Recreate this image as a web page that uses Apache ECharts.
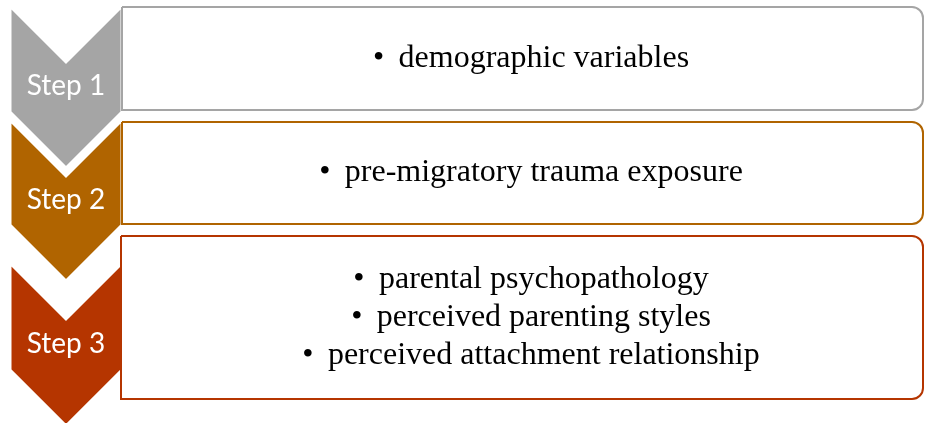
<!DOCTYPE html>
<html>
<head>
<meta charset="utf-8">
<script src="https://cdn.jsdelivr.net/npm/echarts@6/dist/echarts.min.js"></script>
<style>
  html, body { margin: 0; padding: 0; background: #fff; }
  #main { width: 926px; height: 423px; }
</style>
</head>
<body>
<div id="main"></div>
<script>
// step labels and the bullet items of each step
var steps = ['Step 1', 'Step 2', 'Step 3'];
var items1 = ['demographic variables'];
var items2 = ['pre-migratory trauma exposure'];
var items3 = ['parental psychopathology', 'perceived parenting styles', 'perceived attachment relationship'];
var items = [items1, items2, items3];

// layout (px)
var colors = ['#A5A5A5', '#B06400', '#B53500'];
var chevTop = [6, 120, 263];
var chevSide = [112, 225, 370];
var boxTop = [7, 122, 236];
var boxBottom = [110, 224, 399];
var boxLeft = [122, 122, 121];
var chevX0 = 10, chevX1 = 122, notch = 56;

var chart = echarts.init(document.getElementById('main'), null, { renderer: 'canvas' });

var elements = [];
steps.forEach(function (name, i) {
  var xm = (chevX0 + chevX1) / 2;
  var t = chevTop[i], s = chevSide[i];
  // chevron
  elements.push({
    type: 'polygon',
    z: 10 + i,
    shape: {
      points: [[chevX0, t], [xm, t + notch], [chevX1, t], [chevX1, s], [xm, s + notch], [chevX0, s]]
    },
    style: { fill: colors[i], stroke: '#fff', lineWidth: 3 }
  });
  elements.push({
    type: 'text',
    z: 20,
    style: {
      x: xm, y: (t + notch + s) / 2 - 1,
      text: name,
      fill: '#fff',
      font: '28px Lato',
      align: 'center',
      verticalAlign: 'middle'
    }
  });
  // box
  elements.push({
    type: 'rect',
    z: 30,
    shape: { x: boxLeft[i], y: boxTop[i], width: 923 - boxLeft[i], height: boxBottom[i] - boxTop[i], r: [0, 11, 11, 0] },
    style: { fill: '#fff', stroke: colors[i], lineWidth: 2 }
  });
  elements.push({
    type: 'text',
    z: 40,
    style: {
      x: 531, y: (boxTop[i] + boxBottom[i]) / 2,
      text: items[i].map(function (d) { return '\u2022 \u2009' + d; }).join('\n'),
      fill: '#000',
      font: '32px "Liberation Serif"',
      lineHeight: 38,
      align: 'center',
      verticalAlign: 'middle'
    }
  });
});

chart.setOption({
  animation: false,
  graphic: { elements: elements }
});
</script>
</body>
</html>
